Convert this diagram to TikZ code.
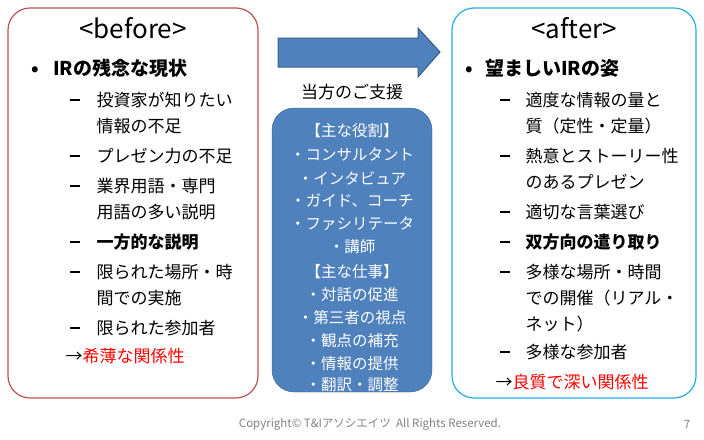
\documentclass[tikz,border=0pt]{standalone}
\usepackage{fontspec}
\setmainfont{Noto Sans CJK JP}
\usetikzlibrary{positioning}
\definecolor{boxblue}{HTML}{4F81BD}
\definecolor{edgeblue}{HTML}{385D8A}
\definecolor{afterblue}{HTML}{1FB0E8}
\definecolor{beforered}{HTML}{C0504D}
\begin{document}
\begin{tikzpicture}[
        x=1pt, y=-1pt,
        panel/.style={draw, rounded corners=22pt, line width=1.2pt},
        title/.style={font=\fontsize{26}{28}\selectfont},
        head/.style={anchor=west, font=\fontsize{19}{22}\selectfont\bfseries},
        item/.style={anchor=west, font=\fontsize{17}{20}\selectfont},
        dashmark/.style={anchor=west, inner sep=0pt},
        role/.style={text=white, font=\fontsize{15.5}{17}\selectfont}
      ]
      \useasboundingbox (0,0) rectangle (704,439);

      % Panels
      \draw[panel, beforered] (8,8) rectangle (258,398);
      \draw[panel, afterblue] (452,8) rectangle (696,398);
      \filldraw[boxblue, draw=edgeblue, rounded corners=22pt] (272,108) rectangle (432,392);

      % Arrow
      \filldraw[fill=boxblue, draw=edgeblue, line width=1pt]
        (278,38) -- (418,38) -- (418,28) -- (440,52) -- (418,77) -- (418,67) -- (278,67) -- cycle;

      % Before side
      \node[title] (before) at (133,28) {<before>};
      \node[head] (bhead) at (28,68) {•\hspace{14pt}IRの残念な現状};
      \foreach \y/\t/\d in {100/投資家が知りたい/1, 126/情報の不足/0, 156/プレゼン力の不足/1,
          186/業界用語・専門/1, 212/用語の多い説明/0, 272/限られた場所・時/1,
          298/間での実施/0, 328/限られた参加者/1} {
        \node[item] (b\y) at (93,\y) {\t};
        \ifnum\d=1 \node[dashmark] at (70,\y) {\rule{10pt}{1.3pt}}; \fi
      }
      \node[dashmark] (bdash) at (70,242) {\rule{10pt}{1.3pt}};
      \node[item, font=\fontsize{17}{20}\selectfont\bfseries] (bone) at (93,242) {一方的な説明};
      \node[item] (bres) at (62,356) {→\textcolor{red}{希薄な関係性}};

      % After side
      \node[title] (after) at (574,28) {<after>};
      \node[head] (ahead) at (462,68) {•\hspace{12pt}望ましいIRの姿};
      \foreach \y/\t/\d in {100/適度な情報の量と/1, 126/質（定性・定量）/0, 156/熱意とストーリー性/1,
          182/のあるプレゼン/0, 212/適切な言葉選び/1, 272/多様な場所・時間/1,
          298/での開催（リアル・/0, 324/ネット）/0, 352/多様な参加者/1} {
        \node[item] (a\y) at (522,\y) {\t};
        \ifnum\d=1 \node[dashmark] at (500,\y) {\rule{10pt}{1.3pt}}; \fi
      }
      \node[dashmark] (adash) at (500,242) {\rule{10pt}{1.3pt}};
      \node[item, font=\fontsize{17}{20}\selectfont\bfseries] (atwo) at (522,242) {双方向の遣り取り};
      \node[item] (ares) at (492,382) {→\textcolor{red}{良質で深い関係性}};

      % Support
      \node[font=\fontsize{17}{20}\selectfont] (support) at (352,92) {当方のご支援};
      \foreach \y/\t in {131/【主な役割】, 155/・コンサルタント, 178/・インタビュア,
          201/・ガイド、コーチ, 224/・ファシリテータ, 247/・講師, 272/【主な仕事】,
          295/・対話の促進, 318/・第三者の視点, 341/・観点の補充, 364/・情報の提供, 385/・翻訳・調整}
        \node[role] at (352,\y) {\t};

      % Footer
      \node[text=gray, font=\fontsize{11.5}{13}\selectfont] (copy) at (370,424) {Copyright©\ T\&Iアソシエイツ\ \ All Rights Reserved.};
      \node[text=gray, font=\fontsize{11.5}{13}\selectfont] (page) at (687,424) {7};
    \end{tikzpicture}
\end{document}
